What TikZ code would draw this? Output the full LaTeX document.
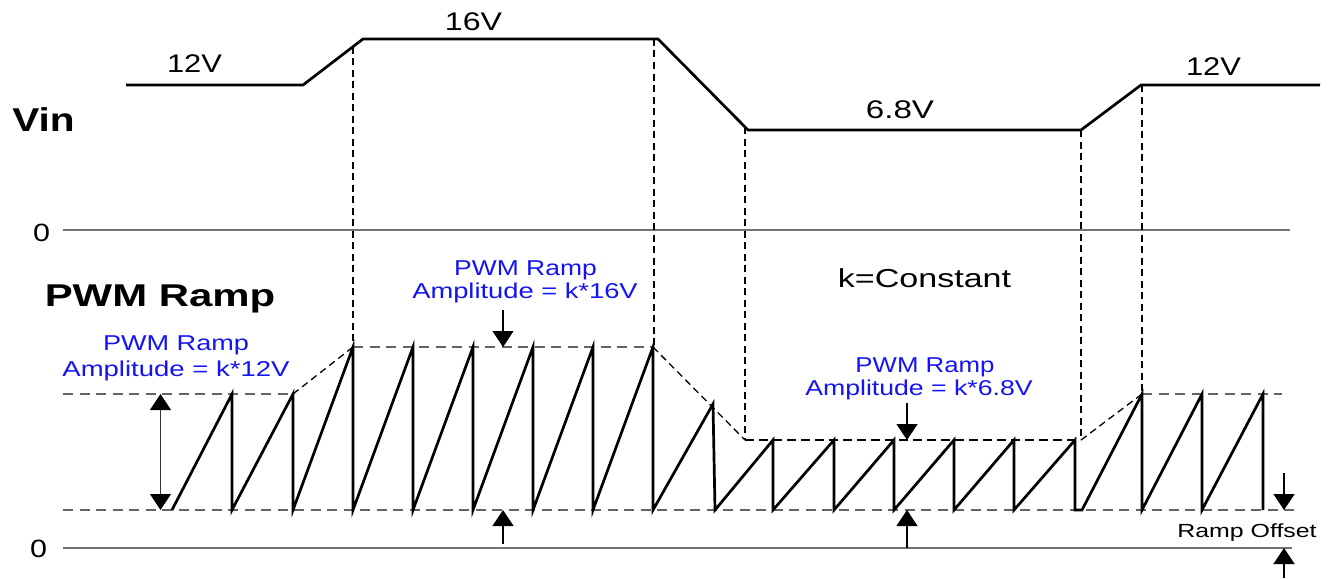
\documentclass[tikz,border=0pt]{standalone}
\usepackage{fontspec}
\setmainfont{Liberation Sans}
\usepackage{graphicx}
\usetikzlibrary{arrows.meta}
\definecolor{axisgray}{RGB}{115,115,115}
\definecolor{levelgray}{RGB}{100,100,100}
\definecolor{annblue}{RGB}{20,20,245}
\newcommand{\hx}[2]{\scalebox{#1}[1]{#2}}
\begin{document}
\begin{tikzpicture}[x=1pt,y=-1pt,
  wave/.style={line width=2.7pt,line join=miter,black},
  axisline/.style={line width=2.4pt,axisgray},
  level/.style={line width=2.8pt,levelgray,dash pattern=on 10pt off 6.5pt},
  guide/.style={line width=1.3pt,black,dash pattern=on 7pt off 4.5pt},
  arr/.style={line width=1.3pt,black,-{Triangle[width=21pt,length=16pt]}},
  dblarr/.style={line width=1.3pt,black!80,{Triangle[width=21pt,length=16pt,black]}-{Triangle[width=21pt,length=16pt,black]}},
  txt/.style={inner sep=0pt,anchor=base,font=\fontsize{25.5}{30}\selectfont},
  bold/.style={inner sep=0pt,anchor=base},
  ann/.style={inner sep=0pt,anchor=base,annblue,font=\fontsize{21.5}{24}\selectfont},
  small/.style={inner sep=0pt,anchor=base,font=\fontsize{19}{22}\selectfont}]
\useasboundingbox[fill=white] (0,0) rectangle (1332,578);

% ---------- texts ----------
\node[bold,font=\fontsize{33}{38}\selectfont\bfseries] (vin) at (43.5,131) {\hx{1.23}{Vin}};
\node[bold,font=\fontsize{31.5}{36}\selectfont\bfseries] (pwm) at (160,306) {\hx{1.33}{PWM Ramp}};
\node[txt] (v12a) at (194.5,73) {\hx{1.21}{12V}};
\node[txt] (v16) at (473.5,31) {\hx{1.26}{16V}};
\node[txt] (v68) at (900,118) {\hx{1.30}{6.8V}};
\node[txt] (v12b) at (1213.5,75) {\hx{1.21}{12V}};
\node[txt,font=\fontsize{25}{30}\selectfont] (zero1) at (41.5,241) {\hx{1.22}{0}};
\node[txt,font=\fontsize{25}{30}\selectfont] (zero2) at (38.5,557) {\hx{1.22}{0}};
\node[txt,font=\fontsize{26}{30}\selectfont] (kc) at (924.5,287) {\hx{1.31}{k=Constant}};
\node[ann] (a12a) at (176,350.5) {\hx{1.26}{PWM Ramp}};
\node[ann] (a12b) at (176,376.5) {\hx{1.28}{Amplitude = k*12V}};
\node[ann] (a16a) at (525.5,275) {\hx{1.23}{PWM Ramp}};
\node[ann] (a16b) at (525,298) {\hx{1.27}{Amplitude = k*16V}};
\node[ann] (a68a) at (925,372) {\hx{1.2}{PWM Ramp}};
\node[ann] (a68b) at (919,395) {\hx{1.24}{Amplitude = k*6.8V}};
\node[small] (roff) at (1247,537) {\hx{1.31}{Ramp Offset}};

% ---------- zero axes ----------
\coordinate (z1a) at (63,230); \coordinate (z1b) at (1290,230);
\coordinate (z2a) at (63,548); \coordinate (z2b) at (1292,548);
\draw[axisline] (z1a) -- (z1b);
\draw[axisline] (z2a) -- (z2b);

% ---------- Vin waveform ----------
\draw[wave] (126,85) -- (303,85) -- (363,39) -- (658,39) -- (748,130)
  -- (1081,130) -- (1141,85) -- (1320,85);

% ---------- vertical guides ----------
\draw[guide] (353,46.7) -- (353,347);
\draw[guide] (654,39) -- (654,347);
\draw[guide] (745,127) -- (745,440);
\draw[guide] (1081,130) -- (1081,440);
\draw[guide] (1142,85) -- (1142,394);

% ---------- ramp levels ----------
\draw[level] (63,510) -- (1300,510);
\draw[level] (63,394) -- (293,394);
\draw[level] (353,347) -- (653,347);
\draw[guide,line width=1.6pt,dash pattern=on 9pt off 5pt] (745,440) -- (1081,440);
\draw[level] (1142,394) -- (1282,394);
\draw[guide] (293,394) -- (353,347);
\draw[guide] (653,347) -- (745,440);
\draw[guide] (1081,440) -- (1142,394);

% ---------- ramp sawtooth ----------
\draw[wave] (172,510) -- (232,394) -- (232,510) -- (293,394) -- (293,510)
  -- (353,347) -- (353,510) -- (413,347) -- (413,510) -- (473,347) -- (473,510)
  -- (533,347) -- (533,510) -- (593,347) -- (593,510) -- (653,347) -- (653,510)
  -- (713,404) -- (715,510) -- (773,440) -- (773,510) -- (834,440) -- (834,510)
  -- (894,440) -- (894,510) -- (954,440) -- (954,510) -- (1014,440) -- (1014,510)
  -- (1075,440) -- (1075,510) -- (1082,510) -- (1142,394) -- (1142,510)
  -- (1202,394) -- (1202,510) -- (1263,394) -- (1263,510);

% ---------- arrows ----------
\coordinate (d12t) at (160.5,394); \coordinate (d12b) at (160.5,510);
\draw[dblarr] (d12t) -- (d12b);
\coordinate (d16t) at (503,310); \coordinate (d16h) at (503,347);
\draw[arr] (d16t) -- (d16h);
\coordinate (u16t) at (503,544); \coordinate (u16h) at (503,510);
\draw[arr] (u16t) -- (u16h);
\coordinate (d68t) at (907,403); \coordinate (d68h) at (907,440);
\draw[arr] (d68t) -- (d68h);
\coordinate (u68t) at (907,548); \coordinate (u68h) at (907,510);
\draw[arr] (u68t) -- (u68h);
\coordinate (dot) at (1284,473); \coordinate (doh) at (1284,510);
\draw[arr] (dot) -- (doh);
\coordinate (uot) at (1284,578); \coordinate (uoh) at (1284,548);
\draw[arr] (uot) -- (uoh);
\end{tikzpicture}
\end{document}
